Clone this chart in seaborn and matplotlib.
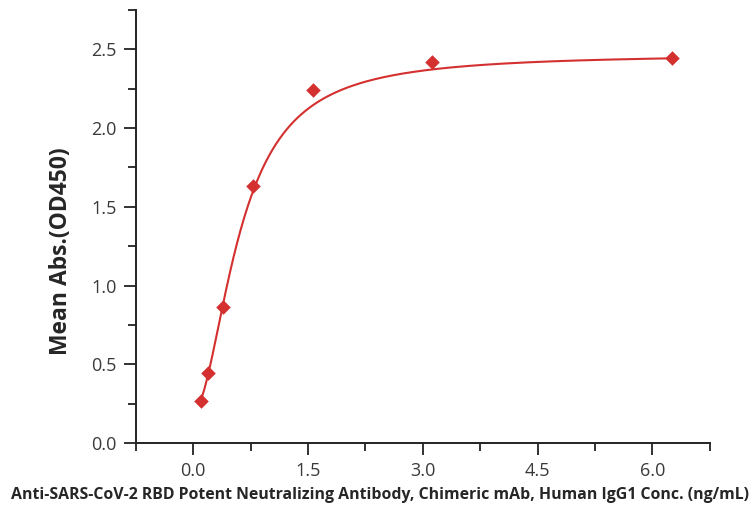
import numpy as np
import pandas as pd
import matplotlib
matplotlib.use("Agg")
import matplotlib.pyplot as plt
from matplotlib.ticker import MultipleLocator
import seaborn as sns

# antibody concentration (ng/mL) and mean OD450
conc = [0.0977, 0.1953, 0.3906, 0.7813, 1.5625, 3.125, 6.25]
od450 = [0.268, 0.442, 0.861, 1.633, 2.24, 2.422, 2.447]

# four-parameter logistic fit, parameters
fit_bottom = 0.20
fit_top = 2.47
fit_ec50 = 0.61
fit_hill = 1.9

x_ticks = [0.0, 1.5, 3.0, 4.5, 6.0]
y_ticks = [0.0, 0.5, 1.0, 1.5, 2.0, 2.5]

RED = "#d3302f"


def four_pl(x):
    return fit_top + (fit_bottom - fit_top) / (1 + (x / fit_ec50) ** fit_hill)


xs = np.linspace(min(conc), max(conc), 400)
fit_df = pd.DataFrame({"conc": xs, "od": four_pl(xs)})
pts_df = pd.DataFrame({"conc": conc, "od": od450})

sns.set_style("ticks")
plt.rcParams["font.family"] = ["Open Sans", "DejaVu Sans"]

fig = plt.figure(figsize=(7.56, 5.12), dpi=100)
ax = fig.add_axes([0.1795, 0.1348, 0.7595, 0.8457])

sns.lineplot(data=fit_df, x="conc", y="od", color=RED, lw=1.5, ax=ax)
sns.scatterplot(data=pts_df, x="conc", y="od", marker="D", s=55,
                color=RED, edgecolor=RED, linewidth=0, ax=ax, zorder=3)

ax.set_xlim(-0.75, 6.75)
ax.set_ylim(0, 2.75)
ax.set_xticks(x_ticks)
ax.set_yticks(y_ticks)
ax.xaxis.set_minor_locator(MultipleLocator(0.75))
ax.yaxis.set_minor_locator(MultipleLocator(0.25))
ax.set_xticklabels([f"{v:.1f}" for v in x_ticks])
ax.set_yticklabels([f"{v:.1f}" for v in y_ticks])

for side in ["top", "right"]:
    ax.spines[side].set_visible(False)
for side in ["left", "bottom"]:
    ax.spines[side].set_linewidth(1.4)
    ax.spines[side].set_color("#222222")

ax.tick_params(which="major", length=8.5, width=1.3, color="#222222",
               labelsize=13, labelcolor="#3a3a3a", pad=5)
ax.tick_params(which="minor", length=5.5, width=1.3, color="#222222")

# both titles sit a bit off the axes centre in the reference, so place them on the figure
ax.set_xlabel("")
ax.set_ylabel("")
fig.text(61 / 756, 1 - 251 / 512, "Mean Abs.(OD450)", rotation=90,
         ha="center", va="center", fontsize=16.5, fontweight="bold")
fig.text(380 / 756, 0.018,
         "Anti-SARS-CoV-2 RBD Potent Neutralizing Antibody, Chimeric mAb, Human IgG1 Conc. (ng/mL)",
         ha="center", va="bottom", fontsize=11.4, fontweight="bold")

fig.savefig("out.png", dpi=100)
